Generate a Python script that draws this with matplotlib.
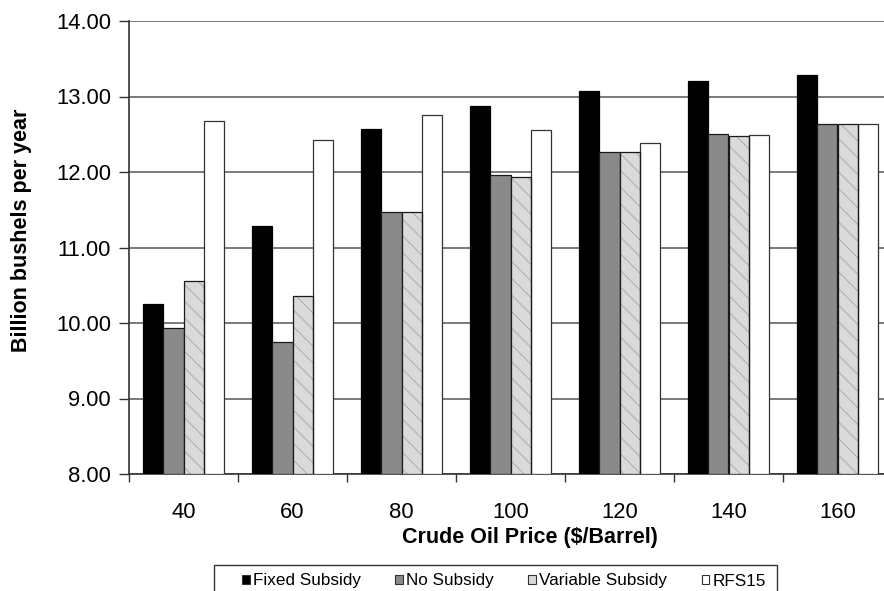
import matplotlib
matplotlib.use("Agg")
import matplotlib.pyplot as plt
from matplotlib.patches import Rectangle, Patch
import numpy as np

plt.rcParams['font.family'] = ['Liberation Sans', 'DejaVu Sans']
plt.rcParams['hatch.linewidth'] = 0.7

prices = ["40", "60", "80", "100", "120", "140", "160"]
fixed_subsidy = [10.25, 11.29, 12.57, 12.87, 13.07, 13.20, 13.28]
no_subsidy = [9.94, 9.75, 11.47, 11.96, 12.27, 12.50, 12.64]
variable_subsidy = [10.56, 10.36, 11.47, 11.94, 12.26, 12.48, 12.64]
rfs15 = [12.67, 12.43, 12.75, 12.56, 12.39, 12.49, 12.64]
y_ticks = [8, 9, 10, 11, 12, 13, 14]

W, H = 884, 591
fig = plt.figure(figsize=(W / 100, H / 100), dpi=100)
ax = fig.add_axes([129 / W, 1 - 474 / H, (892 - 129) / W, (474 - 21) / H])

x = np.arange(len(prices))
bw = 0.185
names = ["Fixed Subsidy", "No Subsidy", "Variable Subsidy", "RFS15"]
values = [fixed_subsidy, no_subsidy, variable_subsidy, rfs15]
faces = ["#000000", "#8a8a8a", "#dadada", "#ffffff"]
edges = ["#000000", "#1a1a1a", "#1a1a1a", "#333333"]
hatches = [None, None, "\\\\", None]

handles = []
for i, (name, vals, fc, ec, ht) in enumerate(zip(names, values, faces, edges, hatches)):
    pos = x + (i - 1.5) * bw
    heights = np.array(vals) - 8
    if ht:
        # textured fill: light hatch strokes under a dark outline
        ax.bar(pos, heights, bottom=8, width=bw, facecolor=fc,
               edgecolor="#ababab", hatch=ht, linewidth=0, zorder=3)
        ax.bar(pos, heights, bottom=8, width=bw, fill=False,
               edgecolor=ec, linewidth=0.9, zorder=4)
    else:
        ax.bar(pos, heights, bottom=8, width=bw, facecolor=fc,
               edgecolor=ec, linewidth=0.9, zorder=3)
    handles.append(Patch(facecolor=fc, edgecolor="#333333", linewidth=0.8, label=name))

ax.set_xlim(-0.5, len(prices) - 0.5)
ax.set_ylim(8, 14)
ax.set_yticks(y_ticks)
ax.set_yticklabels([f"{v:.2f}" for v in y_ticks], fontsize=15.8)
ax.set_xticks(x)
ax.set_xticklabels(prices, fontsize=15.8)
ax.set_xticks(np.arange(len(prices) + 1) - 0.5, minor=True)
ax.tick_params(axis="x", which="major", length=0, pad=20)
ax.tick_params(axis="x", which="minor", length=6, width=1.0, color="#333333")
ax.tick_params(axis="y", which="major", length=7, width=1.0, color="#333333", pad=6)

ax.yaxis.grid(True, color="#7a7a7a", linewidth=1.4, zorder=0)
ax.set_axisbelow(True)
for s in ("top", "right"):
    ax.spines[s].set_visible(False)
for s in ("left", "bottom"):
    ax.spines[s].set_color("#333333")
    ax.spines[s].set_linewidth(1.2)

fig.text(530 / W, 1 - 537 / H, "Crude Oil Price ($/Barrel)", ha="center",
         va="center", fontsize=15.5, fontweight="bold")
fig.text(22 / W, 1 - 230 / H, "Billion bushels per year", ha="center",
         va="center", rotation=90, fontsize=15.5, fontweight="bold")

# legend box runs off the bottom edge
fig.add_artist(Rectangle((214 / W, -0.05), (777 - 214) / W, 0.05 + 1 - 565 / H,
                         transform=fig.transFigure, facecolor="white",
                         edgecolor="#333333", linewidth=1.0))
fig.legend(handles=handles, loc="center", bbox_to_anchor=(504 / W, 1 - 581 / H),
           ncol=4, frameon=False, handlelength=0.45, handleheight=0.45,
           handletextpad=0.2, columnspacing=2.0, borderpad=0,
           prop={"size": 12.3})

fig.savefig("out.png", dpi=100)
